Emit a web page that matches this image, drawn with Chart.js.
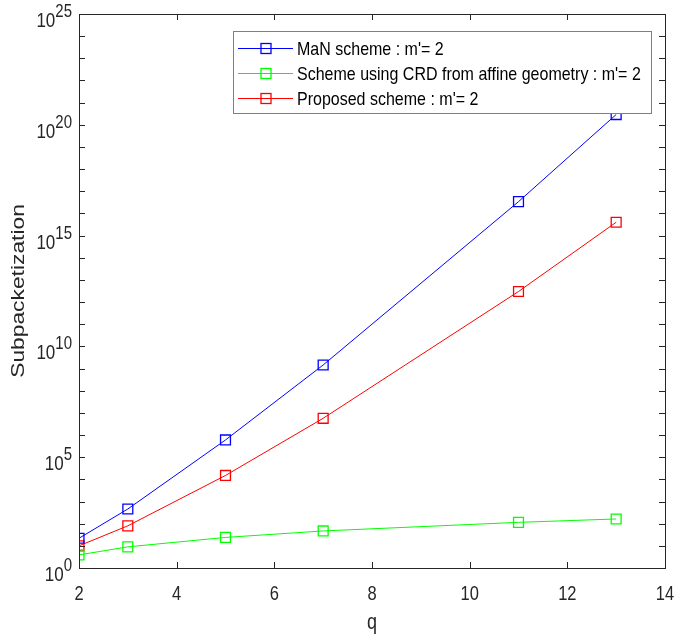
<!DOCTYPE html>
<html>
<head>
<meta charset="utf-8">
<script src="https://cdn.jsdelivr.net/npm/chart.js@4.4.1/dist/chart.umd.min.js"></script>
<style>
  html, body { margin: 0; padding: 0; background: #fff; }
  #wrap { width: 674px; height: 639px; }
</style>
</head>
<body>
<div id="wrap"><canvas id="myChart"></canvas></div>
<script>
// data
const qValues = [2, 3, 5, 7, 11, 13];
const manScheme = [22, 460, 6e5, 1.45e9, 3.4e16, 2.9e20];
const crdScheme = [3.9, 9, 24, 47, 115, 163];
const proposedScheme = [10, 80, 1.5e4, 5.7e6, 3e12, 4e15];

const xTickValues = [2, 4, 6, 8, 10, 12, 14];
const yTickExponents = [0, 1, 2, 3, 4, 5, 6, 7, 8, 9, 10, 11, 12, 13, 14, 15, 16, 17, 18, 19, 20, 21, 22, 23, 24, 25];
const yLabelExponents = [0, 5, 10, 15, 20, 25];

const seriesNames = ["MaN scheme : m'= 2", "Scheme using CRD from affine geometry : m'= 2", "Proposed scheme : m'= 2"];
const seriesColors = ['#0000ff', '#00ff00', '#ff0000'];

const FONT = '"Liberation Sans", Arial, sans-serif';
const AXIS_COLOR = '#262626';
const STRETCH = 1.2; // the source figure's text is a bit taller than wide

const toPoints = vals => vals.map((v, i) => ({ x: qValues[i], y: v }));

function makeSet(label, vals, color) {
  return {
    label: label,
    data: toPoints(vals),
    borderColor: color,
    backgroundColor: 'rgba(0,0,0,0)',
    borderWidth: 1,
    pointStyle: 'rect',
    pointRadius: 7,
    pointBorderWidth: 1.3,
    pointBorderColor: color,
    pointBackgroundColor: 'rgba(0,0,0,0)',
    tension: 0,
  };
}

function drawText(ctx, text, x, y, size, align, baseline, rotated) {
  ctx.save();
  ctx.translate(x, y);
  if (rotated) {
    ctx.rotate(-Math.PI / 2);
    ctx.scale(STRETCH, 1);
  } else {
    ctx.scale(1, STRETCH);
  }
  ctx.font = size + 'px ' + FONT;
  ctx.textAlign = align;
  ctx.textBaseline = baseline;
  ctx.fillText(text, 0, 0);
  ctx.restore();
}

// draws the matlab-like box, inward ticks, labels and legend
const matlabFrame = {
  id: 'matlabFrame',
  afterDatasetsDraw(chart) {
    const { ctx, chartArea: a, scales } = chart;
    const xs = scales.x, ys = scales.y;
    ctx.save();
    ctx.strokeStyle = AXIS_COLOR;
    ctx.lineWidth = 1;
    ctx.strokeRect(Math.round(a.left) + 0.5, Math.round(a.top) + 0.5,
      Math.round(a.right - a.left), Math.round(a.bottom - a.top));

    ctx.beginPath();
    xTickValues.forEach(v => {
      const px = Math.round(xs.getPixelForValue(v)) + 0.5;
      ctx.moveTo(px, a.bottom); ctx.lineTo(px, a.bottom - 6);
      ctx.moveTo(px, a.top); ctx.lineTo(px, a.top + 6);
    });
    yTickExponents.forEach(e => {
      const py = Math.round(ys.getPixelForValue(Math.pow(10, e))) + 0.5;
      ctx.moveTo(a.left, py); ctx.lineTo(a.left + 6, py);
      ctx.moveTo(a.right, py); ctx.lineTo(a.right - 6, py);
    });
    ctx.stroke();

    ctx.fillStyle = AXIS_COLOR;
    // x tick labels
    xTickValues.forEach(v => {
      drawText(ctx, String(v), xs.getPixelForValue(v), 600, 16.5, 'center', 'alphabetic');
    });
    // y tick labels 10^e
    yLabelExponents.forEach(e => {
      const py = ys.getPixelForValue(Math.pow(10, e));
      ctx.font = '15px ' + FONT;
      const ew = ctx.measureText(String(e)).width;
      drawText(ctx, String(e), a.left - 7, py + 3, 15, 'right', 'alphabetic');
      drawText(ctx, '10', a.left - 7 - ew, py + 13, 17, 'right', 'alphabetic');
    });
    // axis titles
    drawText(ctx, 'Subpacketization', 19, (a.top + a.bottom) / 2, 19, 'center', 'middle', true);
    drawText(ctx, 'q', (a.left + a.right) / 2, 629, 18, 'center', 'alphabetic');

    // legend box
    const lx = 233, ly = 31, lw = 418, lh = 82;
    ctx.fillStyle = '#fff';
    ctx.fillRect(lx, ly, lw, lh);
    ctx.strokeStyle = '#7f7f7f';
    ctx.lineWidth = 1;
    ctx.strokeRect(lx + 0.5, ly + 0.5, lw, lh);
    seriesNames.forEach((name, i) => {
      const ry = ly + 17 + i * 25;
      ctx.strokeStyle = seriesColors[i];
      ctx.lineWidth = 1;
      ctx.beginPath();
      ctx.moveTo(lx + 5, ry + 0.5); ctx.lineTo(lx + 60, ry + 0.5);
      ctx.stroke();
      ctx.lineWidth = 1.3;
      ctx.strokeRect(lx + 28, ry - 4.5, 10, 10);
      ctx.fillStyle = '#000';
      drawText(ctx, name, lx + 64, 55 + i * 25, 16, 'left', 'alphabetic');
    });
    ctx.restore();
  }
};

const ctx = document.getElementById('myChart').getContext('2d');
const myChart = new Chart(ctx, {
  type: 'line',
  data: {
    datasets: [
      makeSet(seriesNames[0], manScheme, seriesColors[0]),
      makeSet(seriesNames[1], crdScheme, seriesColors[1]),
      makeSet(seriesNames[2], proposedScheme, seriesColors[2]),
    ],
  },
  options: {
    responsive: true,
    maintainAspectRatio: false,
    animation: false,
    devicePixelRatio: 1,
    layout: { padding: { top: 14, right: 9, left: 0, bottom: 0 } },
    plugins: {
      legend: { display: false },
      tooltip: { enabled: false },
    },
    scales: {
      x: {
        type: 'linear',
        min: 2,
        max: 14,
        grid: { display: false, drawTicks: false },
        border: { display: false },
        ticks: { display: false, stepSize: 2 },
        afterFit: s => { s.height = 71; },
      },
      y: {
        type: 'logarithmic',
        min: 1,
        max: 1e25,
        grid: { display: false, drawTicks: false },
        border: { display: false },
        ticks: { display: false },
        afterBuildTicks: s => { s.ticks = yTickExponents.map(e => ({ value: Math.pow(10, e) })); },
        afterFit: s => { s.width = 79; },
      },
    },
  },
  plugins: [matlabFrame],
});
</script>
</body>
</html>
